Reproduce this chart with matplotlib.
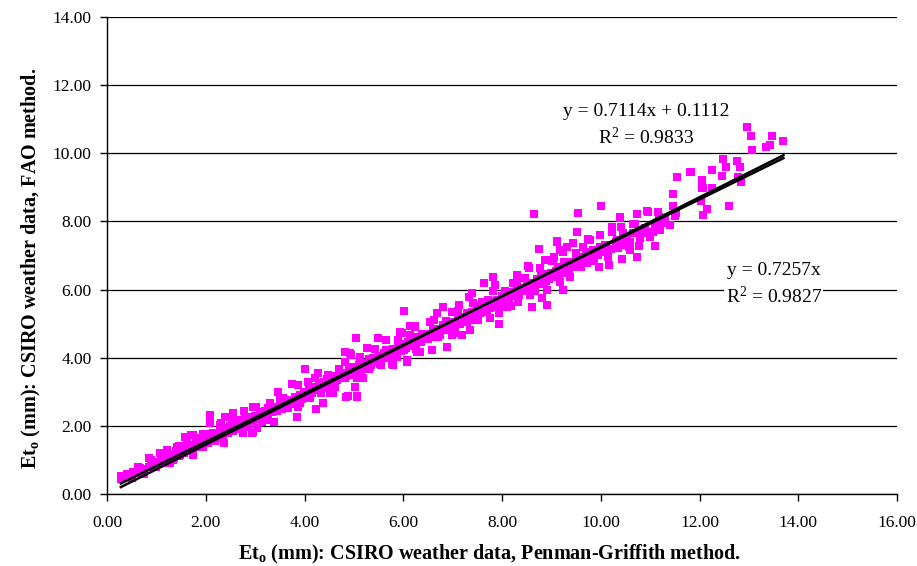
import numpy as np
import matplotlib
matplotlib.use("Agg")
import matplotlib.pyplot as plt

plt.rcParams['font.family'] = ['Liberation Serif', 'DejaVu Serif']
plt.rcParams['mathtext.fontset'] = 'custom'
plt.rcParams['mathtext.rm'] = 'Liberation Serif'
plt.rcParams['mathtext.bf'] = 'Liberation Serif:bold'
plt.rcParams['mathtext.default'] = 'regular'

# Et0 pairs: Penman-Griffith (x) vs FAO (y)
et_pm = [
    0.28, 0.28, 0.40, 0.53, 0.67, 0.90, 0.90, 1.07, 1.21, 1.28, 1.41, 1.58, 1.75, 1.61, 1.75,
    1.88, 2.09, 2.09, 1.95, 2.15, 2.36, 2.39, 2.56, 2.69, 2.56, 2.76, 2.96, 2.93, 2.96, 2.83,
    2.29, 1.48, 1.95, 2.22,
    2.93, 3.03, 3.17, 3.30, 3.27, 3.47, 3.50, 3.57, 3.67, 3.84, 3.87, 3.91, 4.01, 4.08, 4.11,
    4.23, 4.28, 4.31, 4.38, 4.48, 4.52, 4.62, 4.72, 4.82, 4.82, 4.85, 4.92, 4.96, 5.02, 5.06,
    5.04, 5.12, 5.19, 5.26, 5.33, 5.39, 5.49, 5.53, 5.63, 5.66, 5.80, 5.87, 5.93, 6.00, 6.07,
    6.14, 6.24, 6.27, 4.00, 4.89, 5.06,
    6.02, 5.97, 6.07, 6.24, 6.31, 6.34, 6.54, 6.58, 6.68, 6.71, 6.80, 6.88, 6.98, 7.05, 7.12,
    7.18, 7.29, 7.35, 7.39, 7.42, 7.52, 7.59, 7.64, 7.72, 7.76, 7.82, 7.86, 7.93, 7.93, 7.99,
    8.10, 8.20, 8.23, 8.30, 8.33, 8.43, 8.47, 8.53, 8.57, 8.60, 8.70, 8.74, 8.77, 8.80, 8.87,
    8.91, 8.92, 9.01, 9.05, 9.11, 9.14, 9.17, 9.23, 9.24, 9.31, 9.31, 9.34, 8.65, 10.00,
    11.54, 11.81, 12.06, 12.08, 11.47, 10.00, 9.54, 11.46, 12.08, 12.15, 10.39, 10.74, 10.96,
    11.15, 11.52, 10.22, 10.42, 10.66, 11.20, 9.51, 9.11, 10.73, 11.10, 10.44, 10.17, 9.97,
    9.59, 10.78, 10.46, 11.13, 10.86,
    9.04, 9.17, 9.31, 9.44, 9.65, 9.78, 9.85, 9.98, 10.09, 10.15, 10.32, 10.53, 10.59, 9.38,
    9.72, 11.00, 10.79, 10.66, 10.39,
    12.96, 13.04, 13.46, 13.70, 13.43, 13.35, 13.06, 12.48, 12.75, 12.54, 12.82, 12.25, 11.83,
    12.46, 12.77, 12.84, 12.06, 12.06, 12.25, 12.03, 12.16, 12.08, 12.59,
    0.35, 0.45, 0.50, 0.60, 0.70, 0.75, 0.85, 0.95, 1.00, 1.05,
    1.10, 1.15, 1.20, 1.25, 1.30, 1.35, 1.40, 1.45, 1.50, 1.55, 1.60, 1.65, 1.70, 1.75, 1.80,
    1.85, 1.90, 1.95, 2.00, 2.05,
    2.10, 2.15, 2.20, 2.25, 2.30, 2.35, 2.40, 2.45, 2.50, 2.55, 2.60, 2.65, 2.70, 2.75, 2.80,
    2.85, 2.90, 2.95, 3.00, 3.05,
    3.10, 3.15, 3.20, 3.25, 3.30, 3.35, 3.40, 3.45, 3.50, 3.55, 3.60, 3.65, 3.70, 3.75, 3.80,
    3.85, 3.90, 3.95, 4.00, 4.05,
    4.10, 4.15, 4.20, 4.25, 4.30, 4.35, 4.40, 4.45, 4.50, 4.55, 4.60, 4.65, 4.70, 4.75, 4.80,
    4.85, 4.90, 4.95, 5.00, 5.05,
    5.10, 5.15, 5.20, 5.25, 5.30, 5.35, 5.40, 5.45, 5.50, 5.55, 5.60, 5.65, 5.70, 5.75, 5.80,
    5.85, 5.90, 5.95, 6.00, 6.05,
    6.10, 6.15, 6.20, 6.25, 6.30, 6.35, 6.40, 6.45, 6.50, 6.55, 6.60, 6.65, 6.70, 6.75, 6.80,
    6.85, 6.90, 6.95, 7.00, 7.05,
    7.10, 7.15, 7.20, 7.25, 7.30, 7.35, 7.40, 7.45, 7.50, 7.55, 7.60, 7.65, 7.70, 7.75, 7.80,
    7.85, 7.90, 7.95, 8.00, 8.05,
    8.10, 8.15, 8.20, 8.25, 8.30, 8.35, 8.40, 8.45, 8.50, 8.55, 8.60, 8.65, 8.70, 8.75, 8.80,
    8.85, 8.90, 8.95, 9.00, 9.05,
    9.10, 9.15, 9.20, 9.25, 9.30, 9.35, 9.40, 9.45, 9.50, 9.55, 9.60, 9.65, 9.70, 9.75, 9.80,
    9.85, 9.90, 9.95, 10.00, 10.05,
    10.10, 10.20, 10.30, 10.40, 10.50, 10.60, 10.70, 10.80, 10.90, 11.00, 11.10, 11.20, 11.30,
    11.40, 11.50,
    # wider part of the band
    0.62, 0.74, 0.86, 0.98, 1.10, 1.22, 1.34, 1.46, 1.58, 1.70, 1.82, 1.94, 2.06, 2.18, 2.30,
    2.42, 2.54, 2.66, 2.78, 2.90,
    3.02, 3.14, 3.26, 3.38, 3.50, 3.62, 3.74, 3.86, 3.98, 4.10, 4.22, 4.34, 4.46, 4.58, 4.70,
    4.82, 4.94, 5.06, 5.18, 5.30, 5.42, 5.54, 5.66, 5.78, 5.90, 6.02, 6.14, 6.26, 6.38, 6.50,
    6.62, 6.74, 6.86, 6.98, 7.10, 7.22, 7.34, 7.46, 7.58, 7.70, 7.82, 7.94, 8.06, 8.18, 8.30,
    8.42, 8.54, 8.66, 8.78, 8.90, 9.02, 9.14, 9.26, 9.38, 9.50, 9.62, 9.74, 9.86, 9.98, 10.10,
    10.22, 10.34, 10.46, 10.58, 10.70, 10.82, 10.94, 11.06, 11.18, 11.30,
]
et_fao = [
    0.43, 0.52, 0.59, 0.65, 0.75, 1.00, 0.85, 1.19, 1.29, 0.90, 1.39, 1.68, 1.73, 1.49, 1.14,
    1.63, 2.32, 2.07, 1.73, 1.78, 1.49, 2.27, 2.37, 2.17, 1.93, 1.78, 2.56, 2.27, 1.83, 1.98,
    2.03, 1.14, 1.39, 1.68,
    1.78, 1.93, 2.42, 2.66, 2.17, 3.00, 2.76, 2.81, 2.51, 2.27, 3.20, 2.66, 3.66, 3.30, 2.81,
    2.49, 3.54, 3.20, 2.66, 3.49, 2.96, 3.15, 3.54, 3.88, 4.18, 2.86, 4.13, 3.74, 3.15, 2.86,
    4.57, 4.03, 3.40, 4.28, 3.74, 3.98, 4.57, 3.83, 4.13, 4.52, 3.79, 4.03, 4.76, 4.37, 3.88,
    4.67, 4.93, 4.18, 3.67, 2.88, 2.88,
    5.37, 4.72, 3.93, 4.91, 4.62, 4.18, 5.06, 4.23, 5.30, 4.62, 5.48, 4.32, 5.35, 4.72, 5.55,
    4.67, 5.06, 4.81, 5.91, 5.60, 5.11, 5.64, 6.18, 5.69, 5.16, 6.38, 6.13, 5.30, 4.98, 5.74,
    5.50, 5.94, 6.18, 6.43, 5.64, 5.99, 6.33, 6.69, 5.84, 5.50, 6.28, 7.18, 6.62, 5.74, 6.87,
    5.99, 5.55, 6.48, 6.97, 7.41, 6.67, 6.23, 5.99, 7.11, 7.26, 6.52, 6.82, 8.22, 8.45,
    9.31, 9.45, 9.20, 8.97, 8.80, 8.46, 8.24, 8.45, 8.19, 8.37, 8.12, 8.21, 8.27,
    8.27, 8.24, 7.85, 7.85, 7.92, 7.99, 7.70, 7.44, 6.95, 7.28, 6.89, 6.72, 6.67,
    6.67, 7.28, 7.34, 7.75, 7.67,
    6.87, 7.16, 7.26, 7.36, 7.26, 7.46, 7.16, 7.60, 7.31, 6.97, 7.46, 7.50, 7.16, 6.67,
    6.77, 7.55, 7.75, 7.65, 8.09,
    10.78, 10.51, 10.52, 10.37, 10.24, 10.18, 10.10, 9.82, 9.77, 9.61, 9.61, 9.50, 9.46,
    9.33, 9.29, 9.15, 9.22, 8.97, 8.97, 8.60, 8.37, 8.18, 8.45,
    0.50, 0.55, 0.48, 0.62, 0.68, 0.58, 0.80, 0.90, 0.78, 0.95,
    1.05, 0.92, 1.10, 1.00, 1.18, 1.05, 1.25, 1.12, 1.30, 1.20, 1.35, 1.25, 1.45, 1.30, 1.50,
    1.38, 1.55, 1.45, 1.60, 1.50,
    1.70, 1.58, 1.75, 1.65, 1.85, 1.72, 1.90, 1.80, 2.00, 1.85, 2.05, 1.95, 2.10, 2.00, 2.20,
    2.05, 2.25, 2.15, 2.30, 2.20,
    2.35, 2.25, 2.45, 2.30, 2.50, 2.40, 2.55, 2.45, 2.65, 2.50, 2.70, 2.60, 2.75, 2.65, 2.85,
    2.70, 2.90, 2.80, 3.00, 2.85,
    3.05, 2.95, 3.15, 3.05, 3.25, 3.10, 3.30, 3.20, 3.35, 3.25, 3.45, 3.35, 3.50, 3.40, 3.55,
    3.45, 3.65, 3.50, 3.70, 3.60,
    3.80, 3.62, 3.85, 3.70, 3.95, 3.78, 4.00, 3.88, 4.05, 3.92, 4.15, 4.00, 4.20, 4.05, 4.25,
    4.12, 4.35, 4.20, 4.40, 4.28,
    4.45, 4.35, 4.50, 4.38, 4.60, 4.45, 4.65, 4.55, 4.70, 4.60, 4.80, 4.65, 4.85, 4.72, 4.95,
    4.80, 5.00, 4.88, 5.05, 4.95,
    5.15, 5.00, 5.20, 5.08, 5.30, 5.15, 5.35, 5.22, 5.45, 5.30, 5.50, 5.35, 5.55, 5.45, 5.65,
    5.50, 5.70, 5.58, 5.80, 5.65,
    5.85, 5.72, 5.90, 5.80, 6.00, 5.85, 6.05, 5.95, 6.15, 6.00, 6.20, 6.10, 6.30, 6.15, 6.35,
    6.22, 6.45, 6.30, 6.50, 6.38,
    6.55, 6.45, 6.65, 6.50, 6.70, 6.58, 6.80, 6.65, 6.85, 6.75, 6.95, 6.80, 7.00, 6.88, 7.10,
    6.95, 7.15, 7.02, 7.25, 7.10,
    7.30, 7.20, 7.40, 7.30, 7.55, 7.40, 7.65, 7.50, 7.80, 7.65, 7.90, 7.75, 8.05, 7.90, 8.15,
    # wider part of the band
    0.80, 0.74, 1.07, 0.86, 1.09, 1.28, 1.01, 1.40, 1.39, 1.72, 1.41, 1.77, 1.76, 1.56, 2.07,
    1.95, 2.14, 1.92, 2.44, 2.22,
    2.56, 2.10, 2.53, 2.12, 2.80, 2.54, 3.22, 2.56, 2.99, 2.83, 3.41, 2.95, 3.38, 2.97, 3.66,
    3.39, 4.08, 3.41, 3.85, 3.68, 4.27, 3.80, 4.24, 3.82, 4.51, 4.24, 4.93, 4.26, 4.70, 4.54,
    5.12, 4.66, 5.09, 4.68, 5.36, 5.10, 5.78, 5.12, 5.55, 5.39, 5.97, 5.51, 5.95, 5.53, 6.22,
    5.95, 6.64, 5.97, 6.41, 6.24, 6.83, 6.36, 6.80, 6.38, 7.07, 6.81, 7.49, 6.83, 7.26, 7.10,
    7.68, 7.22, 7.65, 7.24, 7.92, 7.66, 8.30, 7.68, 8.12, 7.95,
]

# trendline coefficients shown on the chart
fit_slope, fit_icpt = 0.7114, 0.1112
orig_slope = 0.7257

x = np.array(et_pm)
y = np.array(et_fao)

fig = plt.figure(figsize=(9.17, 5.66), dpi=100)
ax = fig.add_axes([0.1167, 0.1272, 0.8615, 0.8428])

ax.set_xlim(0, 16)
ax.set_ylim(0, 14)
ax.set_xticks(np.arange(0, 17, 2))
ax.set_yticks(np.arange(0, 15, 2))
ax.xaxis.set_major_formatter(matplotlib.ticker.FormatStrFormatter('%.2f'))
ax.yaxis.set_major_formatter(matplotlib.ticker.FormatStrFormatter('%.2f'))
ax.tick_params(direction='out', length=5, width=1, labelsize=12.5, colors='black')
ax.tick_params(axis='x', pad=10)
ax.tick_params(axis='y', pad=6)
for s in ['top', 'right']:
    ax.spines[s].set_visible(False)
for s in ['left', 'bottom']:
    ax.spines[s].set_linewidth(1)
ax.yaxis.grid(True, color='black', linewidth=0.9)
ax.set_axisbelow(True)

ax.scatter(x, y, marker='s', s=32, color='#FF00FF', linewidths=0, zorder=2)

xl = np.array([x.min(), x.max()])
ax.plot(xl, fit_slope * xl + fit_icpt, color='black', lw=1.8, zorder=3)
ax.plot(xl, orig_slope * xl, color='black', lw=1.8, zorder=3)

ax.text(0.682, 0.772, 'y = 0.7114x + 0.1112\nR$^2$ = 0.9833', transform=ax.transAxes,
        ha='center', va='center', fontsize=14, linespacing=1.4)
ax.text(0.844, 0.439, 'y = 0.7257x\nR$^2$ = 0.9827', transform=ax.transAxes,
        ha='center', va='center', fontsize=14, linespacing=1.4,
        bbox=dict(facecolor='white', edgecolor='none', pad=1))

ax.set_xlabel(r'Et$_\mathbf{o}$ (mm): CSIRO weather data, Penman-Griffith method.',
              fontsize=14.5, fontweight='bold')
ax.set_ylabel(r'Et$_\mathbf{o}$ (mm): CSIRO weather data, FAO method.',
              fontsize=14.5, fontweight='bold')
ax.xaxis.set_label_coords(0.4835, -0.103)
ax.yaxis.set_label_coords(-0.081, 0.472)

fig.savefig('out.png', dpi=100)
